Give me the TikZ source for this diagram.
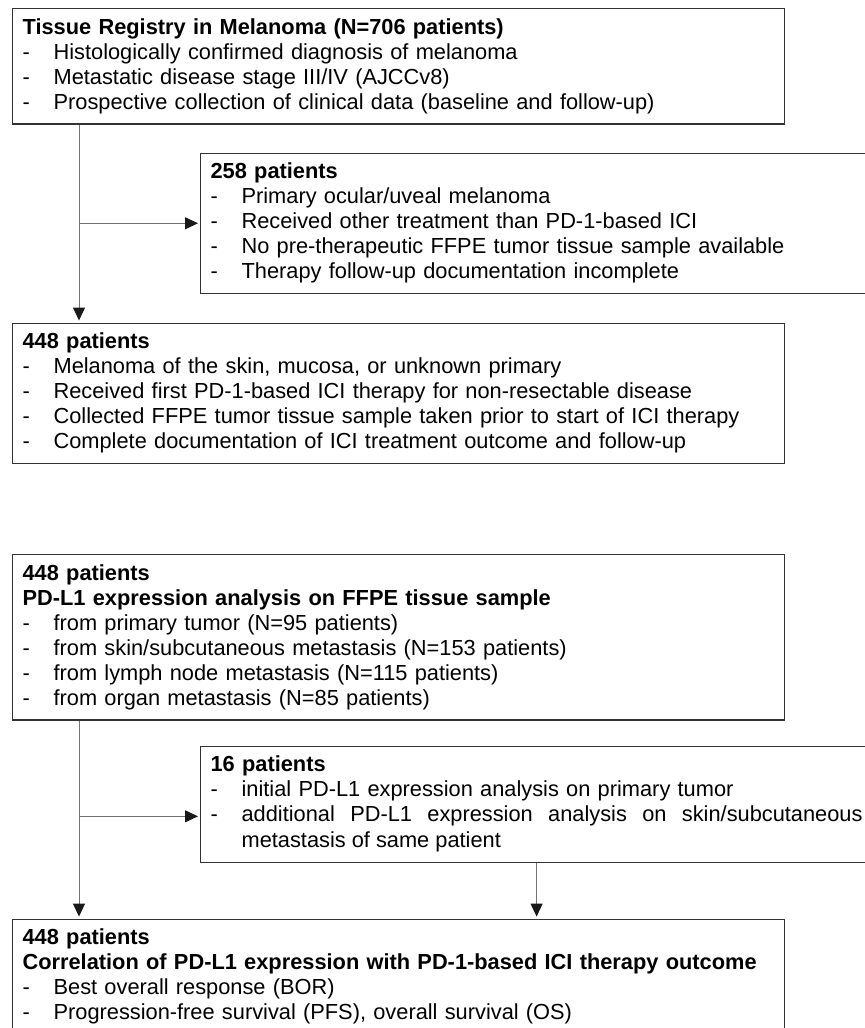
\documentclass[tikz,border=0pt]{standalone}
\usepackage{fontspec}
\setmainfont{Liberation Sans}
\usetikzlibrary{arrows.meta,positioning}
\setlength{\parindent}{0pt}
% one dash item, and one that wraps (justified, hanging)
\newcommand{\itm}[1]{\par\makebox[15.5pt][l]{-}#1}
\newcommand{\itmw}[1]{\par\makebox[15.5pt][l]{-}\parbox[t]{\dimexpr\hsize-15.5pt\relax}{%
  \fontsize{10.9pt}{13pt}\selectfont\spaceskip=\fontdimen2\font plus 0.5em minus 0.1em #1}}

\begin{document}
\begin{tikzpicture}[
  box/.style={draw=black!80, line width=0.6pt, inner sep=5pt, anchor=north west,
    font=\fontsize{10.9pt}{12.5pt}\selectfont},
  wide/.style={text width=376pt},
  side/.style={text width=326pt},
  flow/.style={draw=black!55, line width=0.5pt, shorten >=1pt,
    -{Triangle[length=6.5pt, width=6pt, color=black!90]}}
]
\useasboundingbox (0,0) rectangle (432pt,-514pt);
\node[box, wide] (reg) at (6pt,-4pt) {\textbf{Tissue Registry in Melanoma (N=706 patients)}
  \itm{Histologically confirmed diagnosis of melanoma}
  \itm{Metastatic disease stage III/IV (AJCCv8)}
  \itm{Prospective collection of clinical data (baseline and follow-up)}};
\node[box, side, below right=14pt and 94pt of reg.south west] (excl) {\textbf{258 patients}
  \itm{Primary ocular/uveal melanoma}
  \itm{Received other treatment than PD-1-based ICI}
  \itm{No pre-therapeutic FFPE tumor tissue sample available}
  \itm{Therapy follow-up documentation incomplete}};
\node[box, wide, below=99pt of reg.south west, anchor=north west] (elig) {\textbf{448 patients}
  \itm{Melanoma of the skin, mucosa, or unknown primary}
  \itm{Received first PD-1-based ICI therapy for non-resectable disease}
  \itm{Collected FFPE tumor tissue sample taken prior to start of ICI therapy}
  \itm{Complete documentation of ICI treatment outcome and follow-up}};
\node[box, wide, below=45pt of elig.south west, anchor=north west] (pdl) {\textbf{448 patients}\par
  \textbf{PD-L1 expression analysis on FFPE tissue sample}
  \itm{from primary tumor (N=95 patients)}
  \itm{from skin/subcutaneous metastasis (N=153 patients)}
  \itm{from lymph node metastasis (N=115 patients)}
  \itm{from organ metastasis (N=85 patients)}};
\node[box, side, below right=12.5pt and 94pt of pdl.south west] (sub) {\textbf{16 patients}
  \itm{initial PD-L1 expression analysis on primary tumor}
  \itmw{additional PD-L1 expression analysis on skin/subcutaneous\linebreak metastasis of same patient}};
\node[box, wide, below=99pt of pdl.south west, anchor=north west] (out) {\textbf{448 patients}\par
  \textbf{Correlation of PD-L1 expression with PD-1-based ICI therapy outcome}
  \itm{Best overall response (BOR)}
  \itm{Progression-free survival (PFS), overall survival (OS)}};

\coordinate (spine) at ([xshift=33.5pt]reg.south west);
\coordinate (subin) at ([yshift=-6pt]sub.west);
\draw[flow] (spine) -- (spine |- elig.north);
\draw[flow] (spine |- excl.west) -- (excl.west);
\draw[flow] (spine |- pdl.south) -- (spine |- out.north);
\draw[flow] (spine |- subin) -- (subin);
\draw[flow] (sub.south) -- (sub.south |- out.north);
\end{tikzpicture}
\end{document}
